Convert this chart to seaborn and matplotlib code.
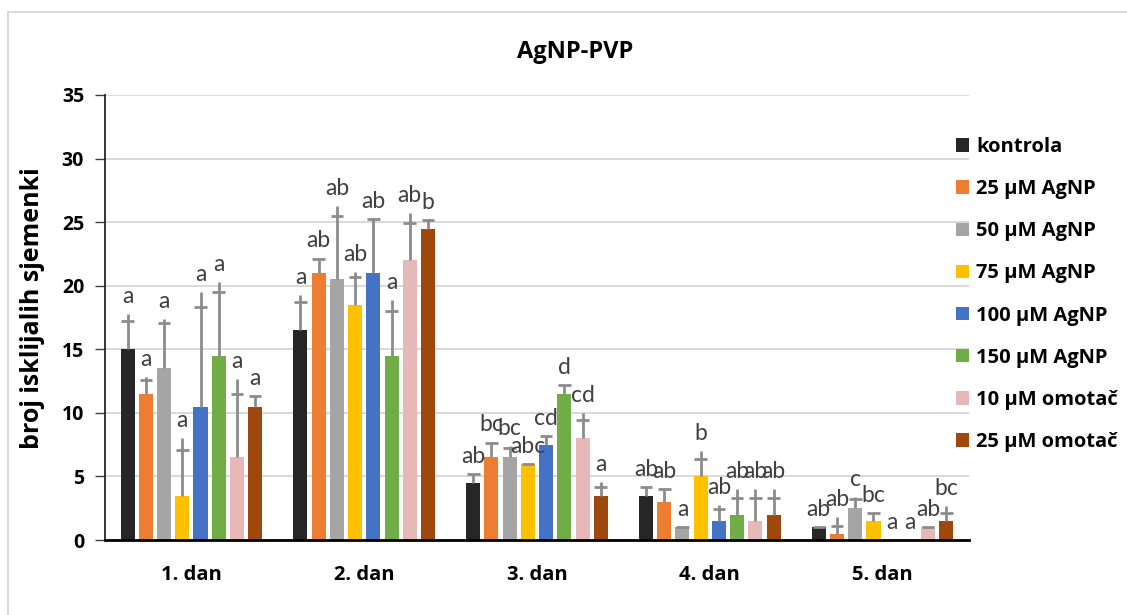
import numpy as np
import pandas as pd
import matplotlib
matplotlib.use("Agg")
import matplotlib.pyplot as plt
from matplotlib.patches import Rectangle
import seaborn as sns

days = ["1. dan", "2. dan", "3. dan", "4. dan", "5. dan"]
treatments = ["kontrola", "25 µM AgNP", "50 µM AgNP", "75 µM AgNP",
              "100 µM AgNP", "150 µM AgNP", "10 µM omotač", "25 µM omotač"]
colors = ["#262626", "#ED7D31", "#A5A5A5", "#FFC000",
          "#4472C4", "#70AD47", "#E6B9B8", "#9E480E"]

# mean values per treatment (days 1..5)
kontrola = [15.0, 16.5, 4.5, 3.5, 1.0]
agnp25 = [11.5, 21.0, 6.5, 3.0, 0.5]
agnp50 = [13.5, 20.5, 6.5, 1.0, 2.5]
agnp75 = [3.5, 18.5, 6.0, 5.0, 1.5]
agnp100 = [10.5, 21.0, 7.5, 1.5, 0.0]
agnp150 = [14.5, 14.5, 11.5, 2.0, 0.0]
omotac10 = [6.5, 22.0, 8.0, 1.5, 1.0]
omotac25 = [10.5, 24.5, 3.5, 2.0, 1.5]

# error bar cap level
cap_kontrola = [17.2, 18.7, 5.2, 4.2, 1.0]
cap_agnp25 = [12.6, 22.1, 7.6, 4.0, 1.1]
cap_agnp50 = [17.1, 25.5, 7.2, 1.0, 3.2]
cap_agnp75 = [7.1, 20.7, 6.0, 6.4, 2.15]
cap_agnp100 = [18.3, 25.25, 8.2, 2.4, 0.0]
cap_agnp150 = [19.5, 18.0, 12.2, 3.3, 0.0]
cap_omotac10 = [11.5, 24.9, 9.4, 3.3, 1.0]
cap_omotac25 = [11.3, 25.2, 4.2, 3.3, 2.15]

# error line top
top_kontrola = [17.8, 19.3, 5.2, 4.2, 1.0]
top_agnp25 = [12.8, 22.2, 7.7, 4.0, 1.8]
top_agnp50 = [17.4, 26.3, 7.4, 1.0, 3.4]
top_agnp75 = [8.0, 21.1, 6.0, 7.0, 2.15]
top_agnp100 = [19.5, 25.25, 8.2, 2.75, 0.0]
top_agnp150 = [20.3, 18.9, 12.2, 4.0, 0.0]
top_omotac10 = [12.7, 25.75, 10.0, 4.0, 1.0]
top_omotac25 = [11.3, 25.2, 4.6, 4.0, 2.7]

# significance letters
let_kontrola = ["a", "a", "ab", "ab", "ab"]
let_agnp25 = ["a", "ab", "bc", "ab", "ab"]
let_agnp50 = ["a", "ab", "bc", "a", "c"]
let_agnp75 = ["a", "ab", "abc", "b", "bc"]
let_agnp100 = ["a", "ab", "cd", "ab", "a"]
let_agnp150 = ["a", "a", "d", "ab", "a"]
let_omotac10 = ["a", "ab", "cd", "ab", "ab"]
let_omotac25 = ["a", "b", "a", "ab", "bc"]

values = [kontrola, agnp25, agnp50, agnp75, agnp100, agnp150, omotac10, omotac25]
caps = [cap_kontrola, cap_agnp25, cap_agnp50, cap_agnp75, cap_agnp100,
        cap_agnp150, cap_omotac10, cap_omotac25]
tops = [top_kontrola, top_agnp25, top_agnp50, top_agnp75, top_agnp100,
        top_agnp150, top_omotac10, top_omotac25]
letters = [let_kontrola, let_agnp25, let_agnp50, let_agnp75, let_agnp100,
           let_agnp150, let_omotac10, let_omotac25]

rows = []
for t, vals in zip(treatments, values):
    for d, v in zip(days, vals):
        rows.append({"day": d, "treatment": t, "value": v})
df = pd.DataFrame(rows)

sns.set_theme(style="white")
plt.rcParams["font.family"] = ["Open Sans", "DejaVu Sans"]
BOLD = ["Open Sans", "DejaVu Sans"]
LIGHT = ["Lato", "DejaVu Sans"]

fig = plt.figure(figsize=(11.27, 6.15), dpi=100)
ax = fig.add_axes([105 / 1127, 1 - 540 / 615, (969 - 105) / 1127, (540 - 95) / 615])

sns.barplot(data=df, x="day", y="value", hue="treatment", order=days,
            hue_order=treatments, palette=colors, width=0.843, gap=0.23,
            errorbar=None, saturation=1, linewidth=0, ax=ax, zorder=2)

err_color = "#8c8c8c"
for i, cont in enumerate(ax.containers):
    for j, bar in enumerate(cont):
        xc = bar.get_x() + bar.get_width() / 2
        v = values[i][j]
        c = caps[i][j]
        tp = tops[i][j]
        hw = bar.get_width() * 0.45
        if tp > v:
            ax.vlines(xc, v, tp, color=err_color, lw=2, zorder=3)
        if c > 0:
            ax.hlines(c, xc - hw, xc + hw, color=err_color, lw=2, zorder=3)
        ax.annotate(letters[i][j], (xc, max(tp, c, v)), xytext=(0, 5),
                    textcoords="offset points", ha="center", va="bottom",
                    fontsize=16.5, color="#404040", zorder=4, family=LIGHT)

ax.set_ylim(0, 35)
ax.set_yticks(np.arange(0, 36, 5))
ax.set_xlim(-0.5, 4.5)
ax.yaxis.grid(True, color="#D9D9D9", lw=1.4, zorder=0)
ax.set_axisbelow(True)
for s in ["top", "right"]:
    ax.spines[s].set_visible(False)
ax.spines["left"].set_color("#262626")
ax.spines["left"].set_linewidth(1.3)
ax.spines["bottom"].set_color("black")
ax.spines["bottom"].set_linewidth(2)
ax.tick_params(axis="y", which="major", left=True, length=7, width=1, color="#404040",
               labelsize=14, pad=8)
ax.tick_params(axis="x", bottom=False, labelsize=14.5, pad=12)
for lab in ax.get_yticklabels() + ax.get_xticklabels():
    lab.set_fontweight("bold")
    lab.set_color("black")
    lab.set_family(BOLD)
ax.set_xlabel("")
ax.set_ylabel("broj isklijalih sjemenki", fontsize=18, fontweight="bold",
              color="black", family=BOLD)
ax.yaxis.set_label_coords((45 - 105) / (969 - 105), (540 - 308) / (540 - 95))

fig.text(575 / 1127, 1 - 52 / 615, "AgNP-PVP", ha="center", va="center",
         fontsize=17, fontweight="bold", color="black", family=BOLD)

handles, labels = ax.get_legend_handles_labels()
if ax.get_legend() is not None:
    ax.get_legend().remove()
leg = fig.legend(handles, labels, loc="upper left",
                 bbox_to_anchor=(956 / 1127, 1 - 137 / 615),
                 frameon=False, handlelength=0.65, handleheight=0.65,
                 handletextpad=0.35, labelspacing=1.1, borderpad=0, borderaxespad=0,
                 prop={"family": BOLD, "weight": "bold", "size": 14.5})
for t in leg.get_texts():
    t.set_color("black")

fig.patches.append(Rectangle((8 / 1127, -0.05), 1.2, 1.05 - 12 / 615,
                             transform=fig.transFigure, fill=False,
                             edgecolor="#D9D9D9", lw=1.5))

fig.savefig("out.png", dpi=100)
